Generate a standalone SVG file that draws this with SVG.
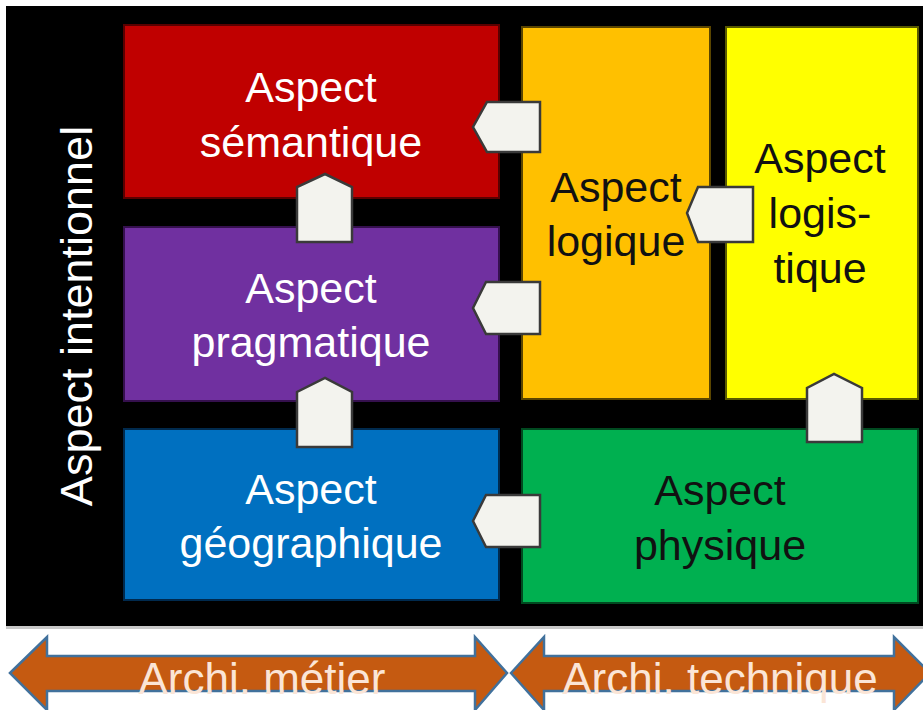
<svg xmlns="http://www.w3.org/2000/svg" width="923" height="710" viewBox="0 0 923 710">
  <style>
    .lbl { font-family: "Liberation Sans", Arial, sans-serif; font-size: 43px; text-anchor: middle; }
    .vert { font-size: 45px; }
    .w { fill: #ffffff; }
    .k { fill: #111111; }
    .box { stroke-width: 2; }
    .conn { fill: #f3f3ee; stroke: #3a3a3a; stroke-width: 2.5; stroke-linejoin: miter; }
    .band { fill: #c55a11; stroke: #41719c; stroke-width: 2.5; }
    .bandtxt { font-family: "Liberation Sans", Arial, sans-serif; font-size: 44px; text-anchor: middle; fill: #fbe5d6; }
  </style>

  <rect width="923" height="710" fill="#ffffff"/>
  <!-- black frame -->
  <rect x="6" y="6" width="917" height="620" fill="#000000"/>
  <rect x="6" y="626" width="917" height="3" fill="#c8c8c8"/>

  <text class="lbl vert w" transform="translate(92 316) rotate(-90)">Aspect intentionnel</text>

  <g id="semantique">
    <rect class="box" x="124" y="25" width="375" height="173" fill="#c00000" stroke="#5a0000"/>
    <text class="lbl w" x="311" y="102">Aspect</text>
    <text class="lbl w" x="311" y="157">sémantique</text>
  </g>
  <g id="pragmatique">
    <rect class="box" x="124" y="227" width="375" height="174" fill="#7030a0" stroke="#35104e"/>
    <text class="lbl w" x="311" y="303">Aspect</text>
    <text class="lbl w" x="311" y="357">pragmatique</text>
  </g>
  <g id="geographique">
    <rect class="box" x="124" y="429" width="375" height="171" fill="#0070c0" stroke="#002a4e"/>
    <text class="lbl w" x="311" y="504">Aspect</text>
    <text class="lbl w" x="311" y="558">géographique</text>
  </g>
  <g id="logique">
    <rect class="box" x="522" y="27" width="188" height="372" fill="#ffc000" stroke="#5a4500"/>
    <text class="lbl k" x="616" y="202">Aspect</text>
    <text class="lbl k" x="616" y="256">logique</text>
  </g>
  <g id="logistique">
    <rect class="box" x="726" y="27" width="192" height="372" fill="#ffff00" stroke="#5a5a00"/>
    <text class="lbl k" x="820" y="173">Aspect</text>
    <text class="lbl k" x="820" y="228">logis-</text>
    <text class="lbl k" x="820" y="283">tique</text>
  </g>
  <g id="physique">
    <rect class="box" x="522" y="429" width="396" height="174" fill="#00b050" stroke="#004a20"/>
    <text class="lbl k" x="720" y="505">Aspect</text>
    <text class="lbl k" x="720" y="560">physique</text>
  </g>

  <g id="connectors">
    <polygon class="conn" points="540,102 487,102 473,127 487,152 540,152"/>
    <polygon class="conn" points="540,282 486,282 473,308 486,334 540,334"/>
    <polygon class="conn" points="540,495 486,495 473,521 486,547 540,547"/>
    <polygon class="conn" points="753,187 698,187 687,213 698,242 753,242"/>
    <polygon class="conn" points="297,242 297,187 325,174 352,187 352,242"/>
    <polygon class="conn" points="297,447 297,392 325,378 352,392 352,447"/>
    <polygon class="conn" points="807,442 807,388 834,374 862,388 862,442"/>
  </g>

  <g id="metier">
    <polygon class="band" points="10,673 47,637 47,656 475,656 475,637 507,673 475,710 475,691 47,691 47,710"/>
    <text class="bandtxt" x="262" y="694">Archi. métier</text>
  </g>
  <g id="technique">
    <polygon class="band" points="511,673 544,637 544,656 894,656 894,637 930,673 894,710 894,691 544,691 544,710"/>
    <text class="bandtxt" x="720" y="694">Archi. technique</text>
  </g>
</svg>
